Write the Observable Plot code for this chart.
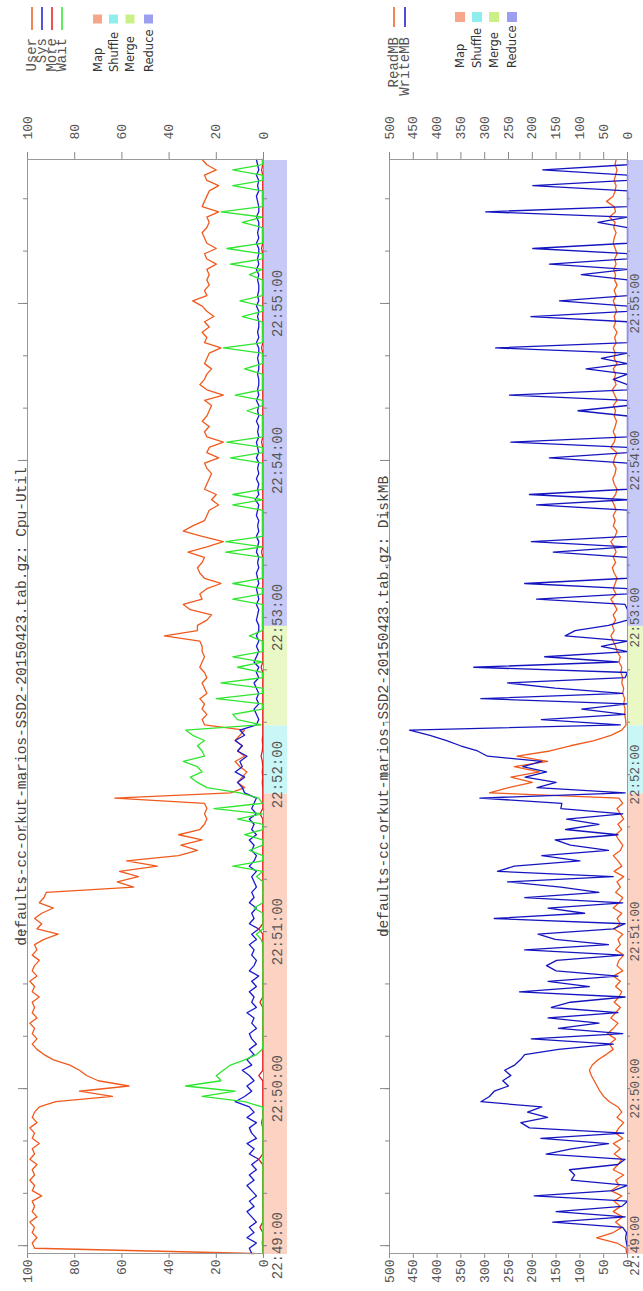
<!DOCTYPE html>
<html>
<head>
<meta charset="utf-8">
<script src="https://cdn.jsdelivr.net/npm/d3@7"></script>
<script src="https://cdn.jsdelivr.net/npm/@observablehq/plot@0.6"></script>
<style>
html,body{margin:0;padding:0;background:#fff;width:643px;height:1291px;overflow:hidden}
#land{position:absolute;left:0;top:0;width:1291px;height:643px;transform-origin:0 0;transform:translate(0,1291px) rotate(-90deg);background:#fff;overflow:hidden}
#land > div{position:absolute;left:0}
#land svg{display:block}
</style>
</head>
<body>
<div id="land"><div id="p1" style="top:0"></div><div id="p2" style="top:322px"></div><svg id="leg" width="1291" height="643" style="position:absolute;left:0;top:0"></svg></div>
<script>
// ---- data ----
const day = "2015-04-23";
const startTime = "22:48:57";
const stepSeconds = 2;

const userPct = [
4,97,98,96,98,97,99,96,98,97,
98,94,98,97,99,97,98,96,99,97,
98,95,98,97,99,96,98,97,95,88,
64,78,57,70,75,78,82,89,93,96,
98,96,98,97,99,96,98,97,98,95,
98,97,99,96,98,97,95,98,96,97,
93,87,96,94,97,94,89,95,93,92,
55,62,53,61,45,58,36,28,35,26,
36,27,25,24,25,24,25,63,14,8,
11,9,7,10,12,8,11,9,12,10,
8,25,26,24,26,25,27,24,25,26,
24,25,27,26,25,26,26,27,42,28,
28,24,22,31,34,26,27,24,18,25,
27,28,26,25,32,24,17,26,34,30,
25,24,23,19,22,20,25,24,23,22,
24,25,19,24,23,17,24,25,23,26,
24,23,22,25,17,24,27,25,24,22,
25,24,23,18,25,24,26,23,25,21,
24,26,30,24,25,23,24,23,24,20,
24,25,20,24,25,26,24,23,24,19,
26,25,24,23,19,24,25,20,24,26];

const sysPct = [
5,6,3,7,4,6,3,5,7,4,
6,3,5,7,4,6,3,5,2,6,
4,7,3,5,6,3,7,4,6,12,
8,5,7,4,6,9,5,7,4,6,
3,5,6,3,5,4,7,3,5,4,
6,3,5,2,6,4,3,5,4,6,
3,5,2,6,4,5,3,6,4,5,
3,4,5,3,6,4,3,5,4,6,
3,5,4,6,3,5,4,3,8,9,
11,8,12,9,10,7,11,9,12,8,
10,3,2,3,4,2,3,2,3,4,
2,3,2,4,3,2,3,2,3,2,
2,3,2.5,2,3,2,2.5,3,2,2.5,
3,2,2.5,2,3,2.5,2,3,2,2.5,
2,3,2.5,2,3.5,2,2.5,2,3,2,
2.5,2,3,2,2.5,3,2,2.5,2,3,
2,2.5,2,3,2,2.5,2,2,2.5,2,
2,2.5,2,2,3,2,2.5,2,2,2.5,
2,3,2,2.5,2,2,2.5,2,3,2,
2.5,2,2,3,2,2.5,2,2,3,2,
2,2.5,3,2,2.5,2,3,2,2.5,3];

const morePct = [
0.3,0.3,0.5,0.3,0.3,1.5,0.3,0.3,0.3,0.3,
0.3,0.3,0.3,0.3,0.3,0.3,0.3,0.3,2,0.3,
0.3,0.3,0.3,0.3,0.3,0.8,0.3,0.3,0.3,0.3,
0.3,0.3,0.3,0.3,2,0.3,0.3,0.3,0.3,0.3,
0.3,0.3,0.3,0.3,0.3,0.3,0.3,0.3,1.5,0.3,
0.3,0.3,0.3,0.3,0.3,0.3,0.3,0.3,0.3,0.3,
0.3,0.3,2,0.3,0.3,0.3,0.3,0.3,0.3,0.3,
0.3,0.3,0.3,0.3,0.3,0.3,0.3,0.3,0.3,0.3,
0.3,0.3,0.3,0.3,1.5,0.3,0.3,0.3,0.3,0.3,
0.5,0.3,0.5,0.3,0.5,1,0.5,0.3,0.5,0.3,
0.3,0.3,0.3,0.3,0.3,0.3,0.3,0.3,0.3,0.3,
0.3,0.3,1,0.3,0.3,0.3,0.3,0.3,0.3,0.3,
0.3,0.3,0.3,0.3,0.3,0.3,0.3,0.3,0.3,0.3,
0.3,0.3,0.3,0.3,0.8,0.3,0.3,0.3,0.3,0.3,
0.3,0.3,0.3,0.3,0.3,0.3,0.3,0.3,0.3,0.3,
0.3,0.3,0.3,0.3,0.3,0.8,0.3,0.3,0.3,0.3,
0.3,0.3,0.3,0.3,0.3,0.3,0.3,0.3,0.3,0.3,
0.3,0.3,0.3,0.8,0.3,0.3,0.3,0.3,0.3,0.3,
0.3,0.3,0.3,0.3,0.3,0.3,0.3,0.3,0.3,0.3,
0.3,0.3,0.8,0.3,0.3,0.3,0.3,0.3,0.3,0.3,
0.3,0.3,0.3,0.3,0.3,0.3,0.3,0.8,0.3,0.3];

const waitPct = [
0.3,0.2,0.3,0.2,0.3,0.2,0.3,0.2,0.3,0.2,
0.3,0.2,0.3,0.2,0.3,0.2,0.3,0.2,0.3,0.2,
0.3,0.2,0.3,0.2,0.3,0.2,0.3,0.2,0.5,8,
26,12,33,18,20,17,14,8,3,0.5,
0.3,0.2,0.3,0.2,0.3,0.2,0.3,0.2,0.3,0.2,
0.3,0.2,0.3,0.2,0.3,0.2,0.3,0.2,0.3,0.2,
1,3,0.3,0.2,0.3,0.2,4,0.3,0.2,0.3,
0.2,0.3,3,0.3,13,0.5,0.3,6,0.3,0.3,
8,0.3,0.3,11,0.5,21,0.5,2,10,24,
28,31,26,28,34,25,26,28,25,30,
33,1,11,13,0.5,0.5,20,0.5,0.5,18,
0.5,0.5,11,0.5,13,0.5,0.5,0.5,6,0.5,
0.5,0.5,0.5,0.5,0.5,13,0.5,0.5,13,0.5,
0.5,0.5,0.5,0.5,16,0.5,16,0.5,0.5,0.5,
0.5,0.5,0.5,13,0.5,13,0.5,0.5,0.5,0.5,
0.5,0.5,14,0.5,0.5,15.5,0.5,0.5,0.5,0.5,
0.5,7,0.5,0.5,12,0.5,0.5,0.5,0.5,8,
0.5,0.5,0.5,17,0.5,0.5,0.5,0.5,0.5,9,
0.5,0.5,10,0.5,0.5,0.5,0.5,6,0.5,14,
0.5,0.5,15.5,0.5,0.5,0.5,0.5,9,0.5,18,
0.5,0.5,0.5,0.5,13,0.5,0.5,13,0.5,0.5];

const readMB = [
2,3,22,65,30,12,25,10,30,15,
28,12,35,18,25,8,30,20,12,28,
15,30,10,25,18,8,22,12,20,38,
50,58,64,70,76,80,74,62,45,30,
38,25,42,30,20,35,25,15,28,18,
12,25,15,30,10,22,18,8,25,15,
20,10,28,15,22,12,30,18,10,25,
15,22,8,28,12,20,30,15,10,18,
25,12,20,8,15,22,10,18,290,250,
200,245,185,238,168,232,163,120,70,35,
12,3,4,6,5,8,6,10,8,12,
10,14,12,18,15,22,25,30,35,28,
32,25,30,22,28,35,24,30,26,22,
28,32,25,30,24,28,35,26,22,30,
26,30,24,28,33,25,22,28,31,26,
24,30,27,22,35,28,25,30,26,23,
28,25,30,22,27,32,24,28,25,30,
22,28,26,30,24,27,22,29,25,28,
23,26,30,24,28,22,27,25,29,24,
27,22,26,30,28,24,29,26,38,25,
28,44,30,26,24,28,25,22,26,24];

const writeMB = [
0,0,2,4,2,10,157,5,150,12,
0,196,30,0,118,111,122,20,5,171,
118,40,182,8,206,224,168,210,180,308,
290,280,250,262,245,258,237,225,216,145,
30,202,10,145,60,167,20,160,120,5,
227,80,167,20,150,170,149,10,216,40,
152,188,30,5,280,90,167,10,216,60,
140,252,30,273,238,100,180,40,120,152,
20,130,60,128,10,140,138,310,5,190,
150,215,170,220,180,294,315,351,380,415,
458,15,181,5,96,0,308,10,152,252,
5,0,323,20,174,0,55,0,131,110,
40,0,0,0,5,191,0,0,216,0,
0,0,0,0,156,0,202,0,0,0,
0,0,0,191,0,206,0,0,0,0,
0,0,164,0,0,245,0,0,0,0,
0,104,0,0,248,0,0,30,0,87,
0,55,0,277,0,0,0,0,0,203,
0,0,143,0,0,0,0,97,0,164,
0,0,199,0,0,0,0,62,0,298,
0,0,0,0,199,0,0,178,0,0];

const phaseNames = ["Map", "Shuffle", "Merge", "Reduce"];
const phaseStart = ["22:48:57", "22:51:53", "22:52:19", "22:52:57"];
const phaseEnd   = ["22:51:53", "22:52:19", "22:52:57", "22:55:55"];
const bandColors = ["#fcd2c3", "#c9f6f6", "#e9f8c4", "#c7c9f6"];
const keyColors  = ["#f8a689", "#8eeeee", "#cbf086", "#9c9ff0"];

const cpuNames = ["User", "Sys", "More", "Wait"];
const cpuColors = ["#f05a1e", "#1a1ad0", "#e41a1a", "#2ee62e"];
const diskNames = ["ReadMB", "WriteMB"];
const diskColors = ["#f05a1e", "#1515c0"];
const cpuTicks = [0, 20, 40, 60, 80, 100];
const diskTicks = [0, 50, 100, 150, 200, 250, 300, 350, 400, 450, 500];
const cpuTitle = "defaults-cc-orkut-marios-SSD2-20150423.tab.gz: Cpu-Util";
const diskTitle = "defaults-cc-orkut-marios-SSD2-20150423.tab.gz: DiskMB";

// ---- build ----
const T = s => new Date(`${day}T${s}Z`);
const t0 = T(startTime);
const times = userPct.map((_, i) => new Date(+t0 + i * stepSeconds * 1000));
const tEnd = times[times.length - 1];
const mono = "'Liberation Mono', 'DejaVu Sans Mono', monospace";

function panel({height, marginTop, marginBottom, yDomain, yTicks, series, title, timeTick, timePad, timeFont}) {
  const majors = d3.utcMinute.range(t0, tEnd);
  const minors = d3.utcSecond.every(20).range(t0, tEnd);
  const phases = phaseNames.map((name, i) => ({name, x1: T(phaseStart[i]), x2: T(phaseEnd[i]), fill: bandColors[i]}));
  return Plot.plot({
    width: 1291, height, marginLeft: 37, marginRight: 160, marginTop, marginBottom,
    style: {fontFamily: mono, fontSize: "14px", color: "#666", background: "transparent"},
    x: {type: "utc", domain: [t0, tEnd]},
    y: {domain: yDomain},
    color: {type: "identity"},
    marks: [
      Plot.rect(phases, {x1: "x1", x2: "x2", y1: 0, y2: 0, insetBottom: -24, fill: d => d.fill}),
      ...series.map(s => Plot.line(times, {x: d => d, y: (d, i) => s.values[i], stroke: s.color, strokeWidth: 1.3})),
      Plot.frame({stroke: "#999"}),
      Plot.axisX(minors, {anchor: "top", tickSize: 5, tickFormat: () => "", label: null, stroke: "#888"}),
      Plot.axisX(majors, {anchor: "top", tickSize: 10, tickFormat: () => "", label: null, stroke: "#888"}),
      Plot.axisX(minors, {anchor: "bottom", tickSize: timeTick, tickFormat: () => "", label: null, stroke: "#888"}),
      Plot.axisX(majors, {anchor: "bottom", tickSize: timeTick, tickPadding: timePad, tickFormat: d3.utcFormat("%H:%M:%S"), label: null, fontSize: timeFont, fill: "#555", stroke: "#888"}),
      Plot.axisY(yTicks, {anchor: "left", tickSize: 4, tickPadding: 2, label: null, fontSize: 13, fill: "#555", stroke: "#888"}),
      Plot.axisY(yTicks, {anchor: "right", tickSize: 7, tickPadding: 13, label: null, fontSize: 13, fill: "#555", stroke: "#888"}),
      Plot.text([title], {text: d => d, frameAnchor: "top", lineAnchor: "bottom", dy: -2, fontSize: 14.5, fill: "#444", fontFamily: mono})
    ]
  });
}

document.getElementById("p1").appendChild(panel({
  height: 322, marginTop: 27, marginBottom: 59, yDomain: [0, 100], yTicks: cpuTicks, title: cpuTitle,
  timeTick: 4, timePad: 5, timeFont: 14,
  series: [
    {values: userPct, color: cpuColors[0]},
    {values: sysPct, color: cpuColors[1]},
    {values: morePct, color: cpuColors[2]},
    {values: waitPct, color: cpuColors[3]}
  ]
}));
document.getElementById("p2").appendChild(panel({
  height: 321, marginTop: 67, marginBottom: 16, yDomain: [0, 500], yTicks: diskTicks, title: diskTitle,
  timeTick: 3, timePad: 0, timeFont: 12.5,
  series: [
    {values: readMB, color: diskColors[0]},
    {values: writeMB, color: diskColors[1]}
  ]
}));

// ---- legends ----
const leg = d3.select("#leg");
function seriesKey(names, colors, rows, textX, lineX1, lineX2) {
  const g = leg.append("g");
  names.forEach((n, i) => {
    g.append("text").attr("x", textX).attr("y", rows[i]).attr("text-anchor", "end")
      .attr("dominant-baseline", "central").attr("font-family", mono).attr("font-size", 14)
      .attr("fill", "#555").text(n);
    g.append("line").attr("x1", lineX1).attr("x2", lineX2).attr("y1", rows[i]).attr("y2", rows[i])
      .attr("stroke", colors[i]).attr("stroke-width", 1.5);
  });
}
function phaseKey(rows, textX, boxX, size) {
  const g = leg.append("g");
  phaseNames.forEach((n, i) => {
    g.append("text").attr("x", textX).attr("y", rows[i]).attr("dominant-baseline", "central")
      .attr("font-family", "'DejaVu Sans', sans-serif").attr("font-size", 11.5).attr("fill", "#333").text(n);
    g.append("rect").attr("x", boxX - size / 2).attr("y", rows[i] - size / 2).attr("width", size).attr("height", size)
      .attr("fill", keyColors[i]);
  });
}
seriesKey(cpuNames, cpuColors, [32, 42, 52, 62], 1253, 1261, 1284);
phaseKey([97.5, 113.5, 130, 148.5], 1219, 1272, 9);
seriesKey(diskNames, diskColors, [394, 405], 1254, 1264, 1284);
phaseKey([460, 477, 494, 512], 1223, 1274, 10);
</script>
</body>
</html>
